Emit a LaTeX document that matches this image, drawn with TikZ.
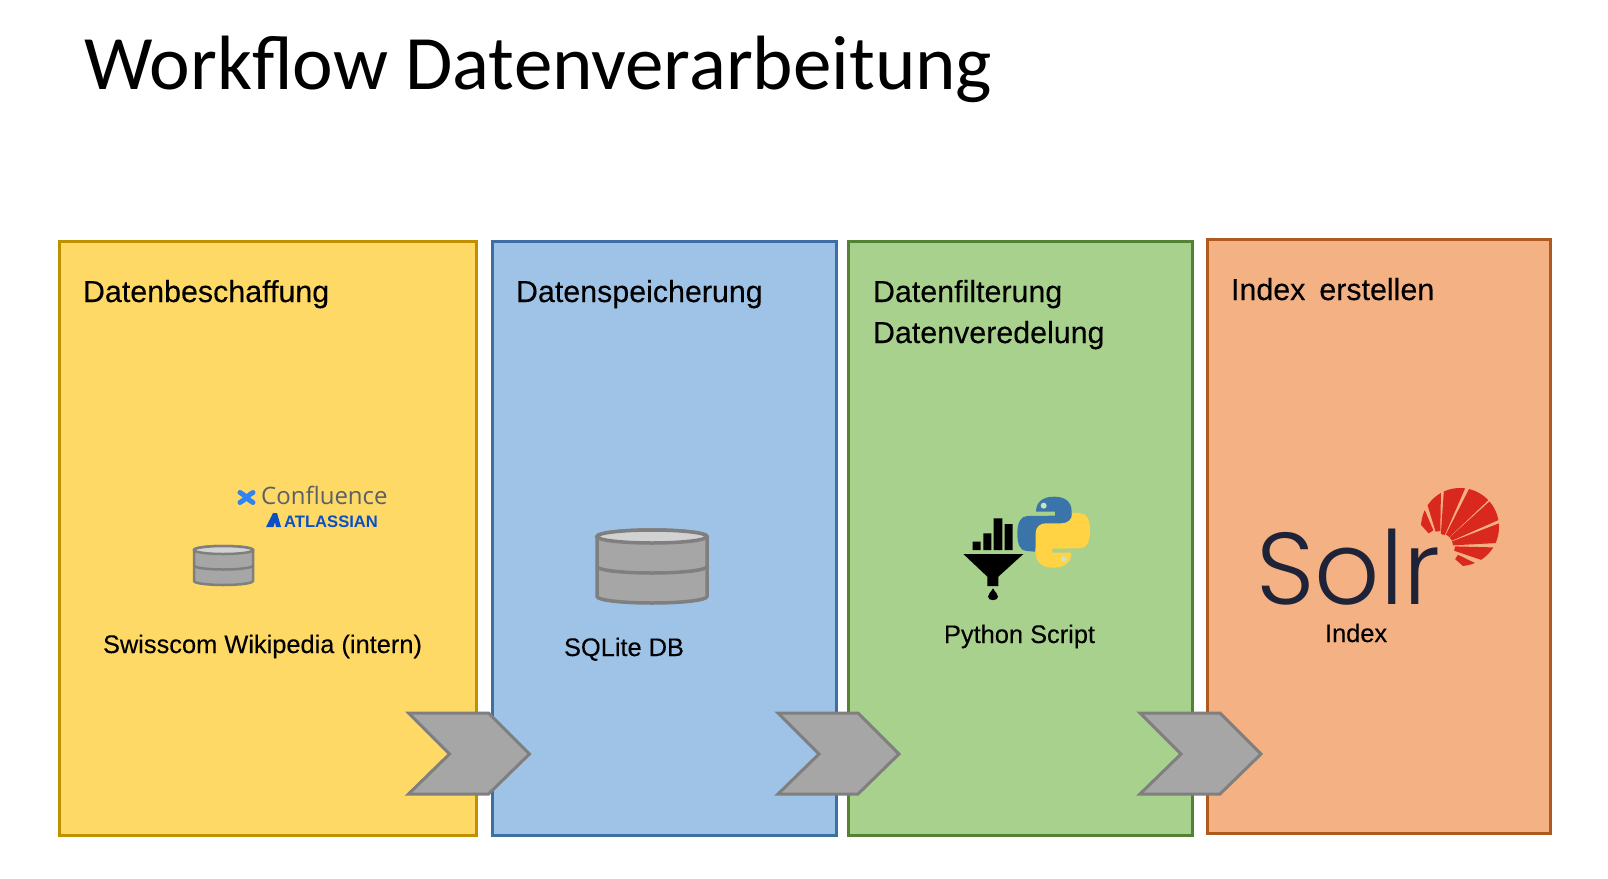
\documentclass[tikz,border=0pt]{standalone}
\usepackage{fontspec}
\setmainfont{Liberation Sans}
\newfontfamily\labfont[FakeBold=0.2]{Liberation Sans}
\newfontfamily\titlefont{Carlito}
\newfontfamily\solrfont{Poppins Light}
\newfontfamily\conffont{Open Sans}
\definecolor{yfill}{HTML}{FFD966}\definecolor{yline}{HTML}{BF9000}
\definecolor{bfill}{HTML}{9FC3E7}\definecolor{bline}{HTML}{3D6FA3}
\definecolor{gfill}{HTML}{A9D18E}\definecolor{gline}{HTML}{548235}
\definecolor{ofill}{HTML}{F4B183}\definecolor{oline}{HTML}{AE5A21}
\definecolor{gfillb}{HTML}{A6A6A6}\definecolor{gedge}{HTML}{7F7F7F}
\definecolor{solrred}{HTML}{D9281E}\definecolor{solrink}{HTML}{1F2338}
\definecolor{atl}{HTML}{0B4FC4}\definecolor{confblue}{HTML}{2F84F2}\definecolor{confgrey}{HTML}{5A6068}
\definecolor{pyblue}{HTML}{3A74A8}\definecolor{pyyellow}{HTML}{FFD343}
\tikzset{
  panel/.style={draw,line width=3pt,anchor=north west,inner sep=0pt,outer sep=0pt},
  lab/.style={anchor=base west,inner sep=0pt,outer sep=0pt,font=\fontsize{30.4}{30.4}\selectfont\labfont,text=black},
  small/.style={anchor=base west,inner sep=0pt,outer sep=0pt,font=\fontsize{25.4}{25.4}\selectfont\labfont,text=black},
  chev/.style={fill=gfillb,draw=gedge,line width=3pt,line join=miter},
  dbbody/.style={fill=gfillb,draw=gedge,line join=round}
}
% \dbicon{left}{right}{top}{bottom}{ry}{linewidth}
\newcommand{\dbicon}[6]{
  \pgfmathsetmacro{\midx}{(#1+#2)/2}
  \pgfmathsetmacro{\rx}{(#2-#1)/2}
  \pgfmathsetmacro{\midy}{(#3+#4)/2}
  \draw[dbbody,line width=#6pt] (#1,#3+#5) -- (#1,#4-#5) arc[start angle=180,end angle=360,x radius=\rx,y radius=-#5]
     -- (#2,#3+#5) arc[start angle=0,end angle=180,x radius=\rx,y radius=#5*-1] -- cycle;
  \draw[fill=gray!35,draw=gedge,line width=#6pt] (\midx,#3+#5) ellipse[x radius=\rx,y radius=#5];
  \draw[gedge,line width=#6pt] (#1,\midy) arc[start angle=180,end angle=360,x radius=\rx,y radius=-#5];
}
\newcommand{\chevron}[1]{
  \draw[chev,shift={(#1,0)}] (0,713) -- (80,713) -- (121,754) -- (80,794) -- (0,794) -- (41,754) -- cycle;
}
\begin{document}
\begin{tikzpicture}[x=1pt,y=-1pt]
\useasboundingbox (0,0) rectangle (1608,878);
\fill[white] (0,0) rectangle (1608,878);
\node[anchor=base west,inner sep=0pt,font=\fontsize{77}{77}\selectfont\titlefont] (title) at (84,89) {Workflow Datenverarbeitung};

\node[panel,fill=yfill,draw=yline,minimum width=417pt,minimum height=594.5pt] (p1) at (59.5,241) {};
\node[panel,fill=bfill,draw=bline,minimum width=344pt,minimum height=594.5pt] (p2) at (492,241) {};
\node[panel,fill=gfill,draw=gline,minimum width=344pt,minimum height=594.5pt] (p3) at (848,241) {};
\node[panel,fill=ofill,draw=oline,minimum width=343pt,minimum height=594.5pt] (p4) at (1207,239) {};

\node[lab] (l1) at (83,302) {Datenbeschaffung};
\node[lab] (l2) at (516,302) {Datenspeicherung};
\node[lab] (l3) at (873,302) {Datenfilterung};
\node[lab] (l3b) at (873,343) {Datenveredelung};
\node[lab] (l4) at (1231,300) {Index\hspace{14pt}erstellen};

\node[small] (t1) at (103,653) {Swisscom Wikipedia (intern)};
\node[small] (t2) at (564,656) {SQLite DB};
\node[small] (t3) at (944,643) {Python Script};
\node[small] (t4) at (1325,642) {Index};

\dbicon{194}{253}{546}{585}{4}{2.5}
\dbicon{597}{707}{530}{603}{6.5}{3.5}

% Confluence logo
\begin{scope}[shift={(246.5,497.5)}]
  \draw[confblue,line width=5pt,line cap=round] (-6.5,-5) .. controls (-2,-3) and (2,3) .. (6.5,5);
  \draw[confblue,line width=5pt,line cap=round] (-6.5,5) .. controls (-2,3) and (2,-3) .. (6.5,-5);
\end{scope}
\node[anchor=base west,inner sep=0pt,text=confgrey,font=\fontsize{24}{24}\selectfont\conffont] (conf) at (261,504) {Confluence};
\fill[atl] (273,513) -- (277,513) -- (281,527) -- (276,527) -- (275,522) -- (273.5,527) -- (266,527) -- cycle;
\node[anchor=base west,inner sep=0pt,text=atl,font=\fontsize{16.6}{16.6}\selectfont\bfseries] (atl) at (284,527) {ATLASSIAN};

% Funnel and Python logo
\begin{scope}[shift={(920,470)},scale=1/3]
  \fill[black] (158,215) rectangle (182,240) (190,190) rectangle (214,240) (221,145) rectangle (247,240) (254,162) rectangle (278,240);
  \fill[black] (130,252) -- (310,252) -- (235,320) -- (235,348) -- (202,348) -- (202,320) -- cycle;
  \fill[black] (219,355) .. controls (212,368) and (204,372) .. (204,380) .. controls (204,394) and (234,394) .. (234,380) .. controls (234,372) and (226,368) .. (219,355) -- cycle;
  \def\pysnake{(348,125) .. controls (348,95) and (370,80) .. (402,80) .. controls (435,80) and (455,95) .. (455,125) -- (455,185) .. controls (455,203) and (440,213) .. (425,213) -- (378,213) .. controls (358,213) and (345,225) .. (345,245) -- (320,243) .. controls (300,243) and (292,222) .. (292,190) .. controls (292,158) and (302,138) .. (322,138) -- (405,137) -- (405,125) -- cycle}
  \fill[pyblue] \pysnake;
  \fill[pyyellow,rotate around={180:(401,186.5)}] \pysnake;
  \fill[gfill!60!white] (371,107) circle[radius=9];
  \fill[gfill!60!white] (431,267) circle[radius=9];
\end{scope}

% Solr logo
\node[anchor=base west,inner sep=0pt,text=solrink,font=\fontsize{102}{102}\selectfont\solrfont] (solr) at (1256,604) {Solr};
\begin{scope}
  \clip (1460,527) circle[radius=39];
  \foreach \a/\b/\r in {113/132/17,89/107/15,66.5/86/12,43.5/63/13,24/42/13,3/21/13,-18.6/-1.5/15,-41/-26/20}{
    \fill[solrred] ([shift={(\a:\r pt)}]1440,546) -- ([shift={(\b:\r pt)}]1440,546) -- ([shift={(\b:90pt)}]1440,546) -- ([shift={(\a:90pt)}]1440,546) -- cycle;
  }
\end{scope}

\chevron{408.5}
\chevron{778}
\chevron{1140}
\end{tikzpicture}
\end{document}
